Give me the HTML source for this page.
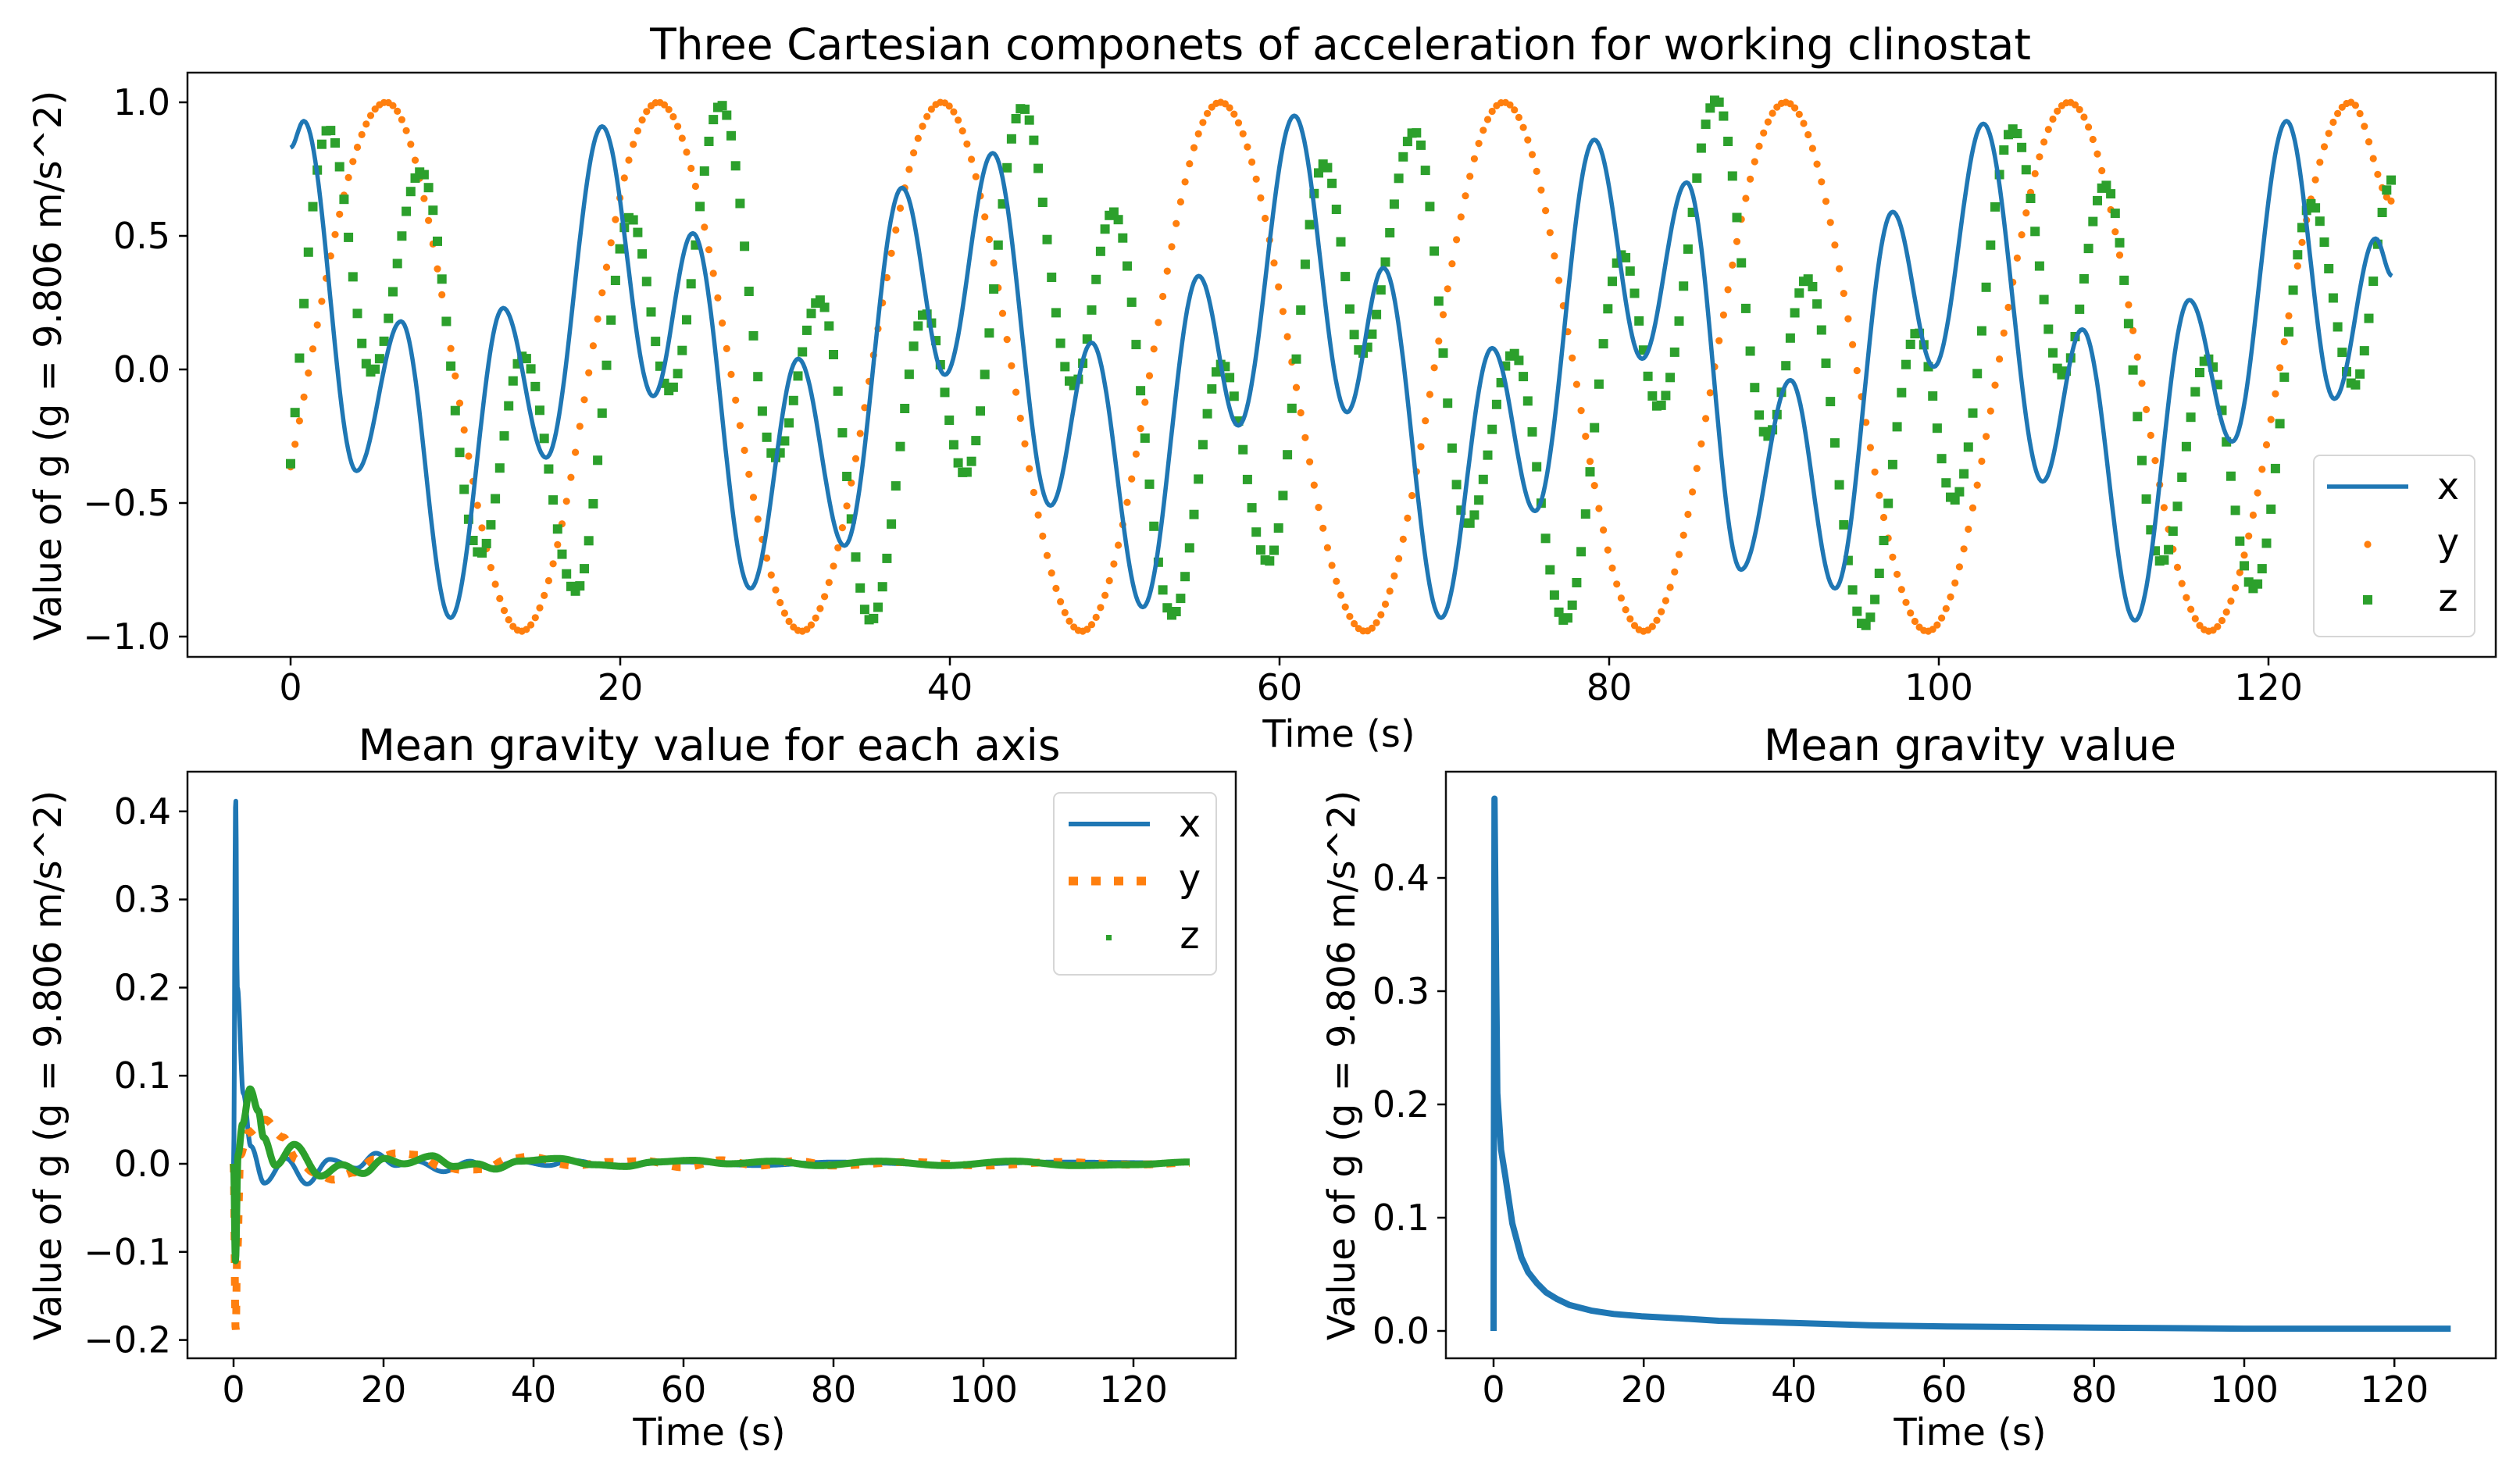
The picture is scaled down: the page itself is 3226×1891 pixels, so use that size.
<!DOCTYPE html>
<html><head><meta charset="utf-8">
<style>
html,body{margin:0;padding:0;background:#fff;}
svg{display:block;}
text{font-family:"DejaVu Sans","Liberation Sans",sans-serif;fill:#000;}
</style></head>
<body>
<svg id="fig" width="3226" height="1891" viewBox="0 0 3226 1891" xmlns="http://www.w3.org/2000/svg">
<rect x="0" y="0" width="3226" height="1891" fill="#fff"/>
<defs>
<clipPath id="clipTop"><rect x="240" y="93" width="2955" height="748"/></clipPath>
<clipPath id="clipBL"><rect x="240" y="988" width="1342" height="751"/></clipPath>
<clipPath id="clipBR"><rect x="1851" y="988" width="1344" height="751"/></clipPath>
</defs>
<g id="top"></g>
<g id="bl"></g>
<g id="br"></g>
</svg>
<script>
// ---- top chart data (knots at extrema) ----
const xKnotT = [0,0.8,4.0,6.7,9.7,12.9,15.5,18.9,22.0,24.4,27.9,30.8,33.6,37.1,39.7,42.6,46.1,48.6,51.7,55.1,57.5,60.9,64.1,66.3,69.8,72.9,75.5,79.1,82.0,84.7,88.0,91.0,93.7,97.2,99.7,102.7,106.3,108.7,111.9,115.2,117.8,121.1,124.0,126.5,127.5];
const xKnotV = [0.83,0.93,-0.38,0.18,-0.93,0.23,-0.33,0.91,-0.10,0.51,-0.82,0.04,-0.66,0.68,-0.02,0.81,-0.51,0.10,-0.89,0.35,-0.21,0.95,-0.16,0.38,-0.93,0.08,-0.53,0.86,0.04,0.70,-0.75,-0.04,-0.82,0.59,0.01,0.92,-0.42,0.15,-0.94,0.26,-0.27,0.93,-0.11,0.49,0.35];
const yKnotT = [-3.5,5.8,14.0,22.3,31.0,39.5,48.0,56.4,65.2,73.6,82.1,90.7,99.3,107.9,116.4,125.0,127.5];
const yKnotV = [-0.98,1.0,-0.98,1.0,-0.98,1.0,-0.98,1.0,-0.98,1.0,-0.98,1.0,-0.98,1.0,-0.98,1.0,0.63];
const zKnotT = [-1.2,2.3,4.9,7.9,11.5,14.1,17.3,20.6,23.0,26.1,29.4,32.1,35.2,38.5,40.9,44.4,47.5,49.9,53.5,56.5,59.3,62.7,65.0,68.2,71.4,74.2,77.3,80.8,83.0,86.5,89.6,92.0,95.5,98.7,100.9,104.5,107.5,110.1,113.5,116.3,119.1,122.6,125.2,127.5];
const zKnotV = [-0.8,0.90,-0.01,0.74,-0.69,0.05,-0.83,0.57,-0.08,0.99,-0.33,0.26,-0.94,0.21,-0.39,0.98,-0.06,0.59,-0.92,0.02,-0.72,0.77,0.06,0.89,-0.58,0.06,-0.94,0.43,-0.14,1.01,-0.25,0.34,-0.96,0.14,-0.49,0.90,-0.02,0.69,-0.72,0.04,-0.82,0.62,-0.06,0.71];
const sampleStep = 0.27;
const topXTicks = [0,20,40,60,80,100,120];
const topYTicks = [-1.0,-0.5,0.0,0.5,1.0];
const topYTickLabels = ["\u22121.0","\u22120.5","0.0","0.5","1.0"];

// ---- bottom-left (running means per axis) ----
const mxT = [0,0.28,0.5,1.3,2.3,4.1,7.0,9.8,12.8,16.4,19.0,21.6,24.4,28.0,31.5,34.0,38.0,42.0,45.0,50.0,60.0,70.0,80.0,95.0,110.0,127.5];
const mxV = [0,0.416,0.2,0.08,0.02,-0.022,0.006,-0.023,0.005,-0.005,0.012,-0.002,0.003,-0.009,0.003,-0.005,0.003,-0.002,0.004,-0.002,0.002,-0.002,0.002,-0.001,0.002,0.001];
const myT = [0,0.28,0.5,0.9,1.9,4.2,6.6,8.4,10.8,13.3,16.0,18.8,21.7,24.7,27.6,30.6,33.5,36.5,39.4,45.3,50,55,60,65,70,75,80,90,100,110,120,127.5];
const myV = [0,-0.19,-0.1,0.01,0.035,0.05,0.03,0.005,-0.01,-0.018,-0.01,0.005,0.012,0.01,-0.003,-0.007,-0.006,0.005,0.008,-0.002,0.002,0.003,-0.004,0.004,-0.002,0.003,-0.002,0.002,-0.002,0.002,-0.001,0.001];
const mzT = [0,0.25,0.6,1.2,2.2,3.3,4.0,5.6,8.1,11.6,14.4,17.3,20.1,22.7,26.5,29.3,32.4,34.9,38,43.3,48,52.3,56,61.3,66,72,78,86,95,104,112,120,127.5];
const mzV = [0,-0.11,0.01,0.045,0.085,0.06,0.03,-0.002,0.022,-0.014,-0.001,-0.011,0.006,0.0,0.009,-0.003,0.0,-0.006,0.003,0.006,-0.001,-0.003,0.002,0.004,0.0,0.003,-0.002,0.003,-0.002,0.003,-0.002,-0.001,0.002];
const blXTicks = [0,20,40,60,80,100,120];
const blYTicks = [-0.2,-0.1,0.0,0.1,0.2,0.3,0.4];
const blYTickLabels = ["\u22120.2","\u22120.1","0.0","0.1","0.2","0.3","0.4"];

// ---- bottom-right (mean gravity magnitude) ----
const gT = [0,0.12,0.5,1.0,1.6,2.5,3.7,4.6,5.8,7.0,8.5,10.1,13,16,19.7,25,30,40.0,50,60.4,80,100.0,127.5];
const gV = [0,0.47,0.21,0.16,0.135,0.095,0.065,0.052,0.042,0.034,0.028,0.023,0.018,0.015,0.013,0.011,0.009,0.007,0.005,0.004,0.003,0.002,0.002];
const brXTicks = [0,20,40,60,80,100,120];
const brYTicks = [0.0,0.1,0.2,0.3,0.4];
const brYTickLabels = ["0.0","0.1","0.2","0.3","0.4"];

const NS = "http://www.w3.org/2000/svg";
function mk(parent, tag, attrs){ const e=document.createElementNS(NS,tag); for(const k in attrs) e.setAttribute(k,attrs[k]); parent.appendChild(e); return e; }
function interp(T,V,t){
  if(t<=T[0]) return V[0];
  for(let i=0;i<T.length-1;i++){
    if(t<=T[i+1]){ const f=(t-T[i])/(T[i+1]-T[i]); return V[i]+(V[i+1]-V[i])*(1-Math.cos(Math.PI*f))/2; }
  }
  return V[V.length-1];
}
function linearScale(d0,d1,r0,r1){ return v=> r0+(v-d0)*(r1-r0)/(d1-d0); }
function curvePath(T,V,sx,sy,t0,t1,step){
  let d=""; for(let t=t0;t<=t1+1e-9;t+=step){ const x=sx(t), y=sy(interp(T,V,t)); d+=(d?"L":"M")+x.toFixed(1)+","+y.toFixed(1); } return d;
}
function polyPath(T,V,sx,sy){
  let d=""; for(let i=0;i<T.length;i++){ d+=(i?"L":"M")+sx(T[i]).toFixed(1)+","+sy(V[i]).toFixed(1); } return d;
}

function axesFrame(g, L,T,R,B, xTicks, xs, yTicks, yLabels, ys, tickLabelX, xTickBase, name){
  for(let i=0;i<xTicks.length;i++){
    const x=xs(xTicks[i]);
    const tk=mk(g,"line",{x1:x,y1:B,x2:x,y2:B+11,stroke:"#000","stroke-width":2.5});
    
    
    const tl=mk(g,"text",{x:x,y:xTickBase,"font-size":46,"text-anchor":"middle"});
    tl.textContent=String(xTicks[i]);
    
    
  }
  for(let i=0;i<yTicks.length;i++){
    const y=ys(yTicks[i]);
    const tk=mk(g,"line",{x1:L-11,y1:y,x2:L,y2:y,stroke:"#000","stroke-width":2.5});
    
    
    const tl=mk(g,"text",{x:tickLabelX,y:y+16,"font-size":46,"text-anchor":"end"});
    tl.textContent=yLabels[i];
    
    
  }
}
function frameRect(g,L,T,R,B,name){
  const r=mk(g,"rect",{x:L,y:T,width:R-L,height:B-T,fill:"none",stroke:"#111","stroke-width":2.5});
  
  
}
function label(g,txt,x,y,size,rot,name,anchor){
  const a={x:x,y:y,"font-size":size,"text-anchor":anchor||"middle"};
  if(rot) a.transform="rotate(-90 "+x+" "+y+")";
  const t=mk(g,"text",a); t.textContent=txt;
  
  
  return t;
}

// ================= TOP =================
(function(){
  const g=document.getElementById("top");
  const L=240,T=93,R=3195,B=841;
  const xs=linearScale(0,20,372,794);
  const ys=linearScale(0,1,473,131);
  const sg=mk(g,"g",{"clip-path":"url(#clipTop)"});
  
  
  for(let t=0;t<=127.5+1e-9;t+=sampleStep){
    const c=mk(sg,"circle",{cx:xs(t).toFixed(1),cy:ys(interp(yKnotT,yKnotV,t)).toFixed(1),r:4.6,fill:"#ff7f0e"});
    
    
  }
  for(let t=0;t<=127.5+1e-9;t+=sampleStep){
    const x=xs(t), y=ys(interp(zKnotT,zKnotV,t));
    const s=mk(sg,"rect",{x:(x-6).toFixed(1),y:(y-6).toFixed(1),width:12,height:12,fill:"#2ca02c"});
    
    
  }
  const p=mk(sg,"path",{d:curvePath(xKnotT,xKnotV,xs,ys,0,127.5,0.1),fill:"none",stroke:"#1f77b4","stroke-width":5.5,"stroke-linejoin":"round"});
  
  
  frameRect(g,L,T,R,B,'top');
  axesFrame(g,L,T,R,B,topXTicks,xs,topYTicks,topYTickLabels,ys,218,896,'top');
  label(g,"Three Cartesian componets of acceleration for working clinostat",1716,76,55,false,'top-title');
  label(g,"Time (s)",1714,956,48,false,'top-x-axis-title');
  label(g,"Value of g (g = 9.806 m/s^2)",78,468,48,true,'top-y-axis-title');
  const lg=mk(g,"g",{});
  
  
  mk(lg,"rect",{x:2962,y:583,width:206,height:232,rx:8,fill:"#fff","fill-opacity":0.85,stroke:"#d6d6d6","stroke-width":2});
  mk(lg,"line",{x1:2979,y1:623,x2:3083,y2:623,stroke:"#1f77b4","stroke-width":5.5});
  mk(lg,"circle",{cx:3031,cy:697,r:4.6,fill:"#ff7f0e"});
  mk(lg,"rect",{x:3025,y:762,width:12,height:12,fill:"#2ca02c"});
  label(lg,"x",3134,639,48,false,'legend-entry-x');
  label(lg,"y",3134,711,48,false,'legend-entry-y');
  label(lg,"z",3134,782,48,false,'legend-entry-z');
})();

// ================= BOTTOM LEFT =================
(function(){
  const g=document.getElementById("bl");
  const L=240,T=988,R=1582,B=1739;
  const xs=linearScale(0,20,299,491);
  const ys=linearScale(0,0.1,1490,1377.2);
  const sg=mk(g,"g",{"clip-path":"url(#clipBL)"});
  
  
  const px=mk(sg,"path",{d:curvePath(mxT,mxV,xs,ys,0,127.5,0.05),fill:"none",stroke:"#1f77b4","stroke-width":6,"stroke-linejoin":"round"});
  
  
  const py=mk(sg,"path",{d:curvePath(myT,myV,xs,ys,0,127.5,0.05),fill:"none",stroke:"#ff7f0e","stroke-width":10,"stroke-dasharray":"11 18"});
  
  
  const pz=mk(sg,"path",{d:curvePath(mzT,mzV,xs,ys,0,127.5,0.05),fill:"none",stroke:"#2ca02c","stroke-width":9,"stroke-linejoin":"round"});
  
  
  frameRect(g,L,T,R,B,'mean-axis');
  axesFrame(g,L,T,R,B,blXTicks,xs,blYTicks,blYTickLabels,ys,219,1795,'mean-axis');
  label(g,"Mean gravity value for each axis",908,973,55,false,'mean-axis-title');
  label(g,"Time (s)",908,1850,48,false,'mean-axis-x-axis-title');
  label(g,"Value of g (g = 9.806 m/s^2)",78,1364,48,true,'mean-axis-y-axis-title');
  const lg=mk(g,"g",{});
  
  
  mk(lg,"rect",{x:1349,y:1015,width:208,height:233,rx:8,fill:"#fff","fill-opacity":0.85,stroke:"#d6d6d6","stroke-width":2});
  mk(lg,"line",{x1:1368,y1:1055,x2:1472,y2:1055,stroke:"#1f77b4","stroke-width":6});
  mk(lg,"line",{x1:1368,y1:1128,x2:1472,y2:1128,stroke:"#ff7f0e","stroke-width":11,"stroke-dasharray":"12 17"});
  mk(lg,"rect",{x:1416,y:1197,width:7,height:7,fill:"#2ca02c"});
  label(lg,"x",1523,1071,48,false,'legend-entry-x');
  label(lg,"y",1523,1141,48,false,'legend-entry-y');
  label(lg,"z",1523,1214,48,false,'legend-entry-z');
})();

// ================= BOTTOM RIGHT =================
(function(){
  const g=document.getElementById("br");
  const L=1851,T=988,R=3195,B=1739;
  const xs=linearScale(0,20,1912,2104.2);
  const ys=linearScale(0,0.1,1704,1559);
  const sg=mk(g,"g",{"clip-path":"url(#clipBR)"});
  
  
  const p=mk(sg,"path",{d:polyPath(gT,gV,xs,ys),fill:"none",stroke:"#1f77b4","stroke-width":8,"stroke-linejoin":"round"});
  
  
  frameRect(g,L,T,R,B,'mean-gravity');
  axesFrame(g,L,T,R,B,brXTicks,xs,brYTicks,brYTickLabels,ys,1830,1795,'mean-gravity');
  label(g,"Mean gravity value",2522,973,55,false,'mean-gravity-title');
  label(g,"Time (s)",2522,1850,48,false,'mean-gravity-x-axis-title');
  label(g,"Value of g (g = 9.806 m/s^2)",1734,1364,48,true,'mean-gravity-y-axis-title');
})();
</script>
</body></html>
